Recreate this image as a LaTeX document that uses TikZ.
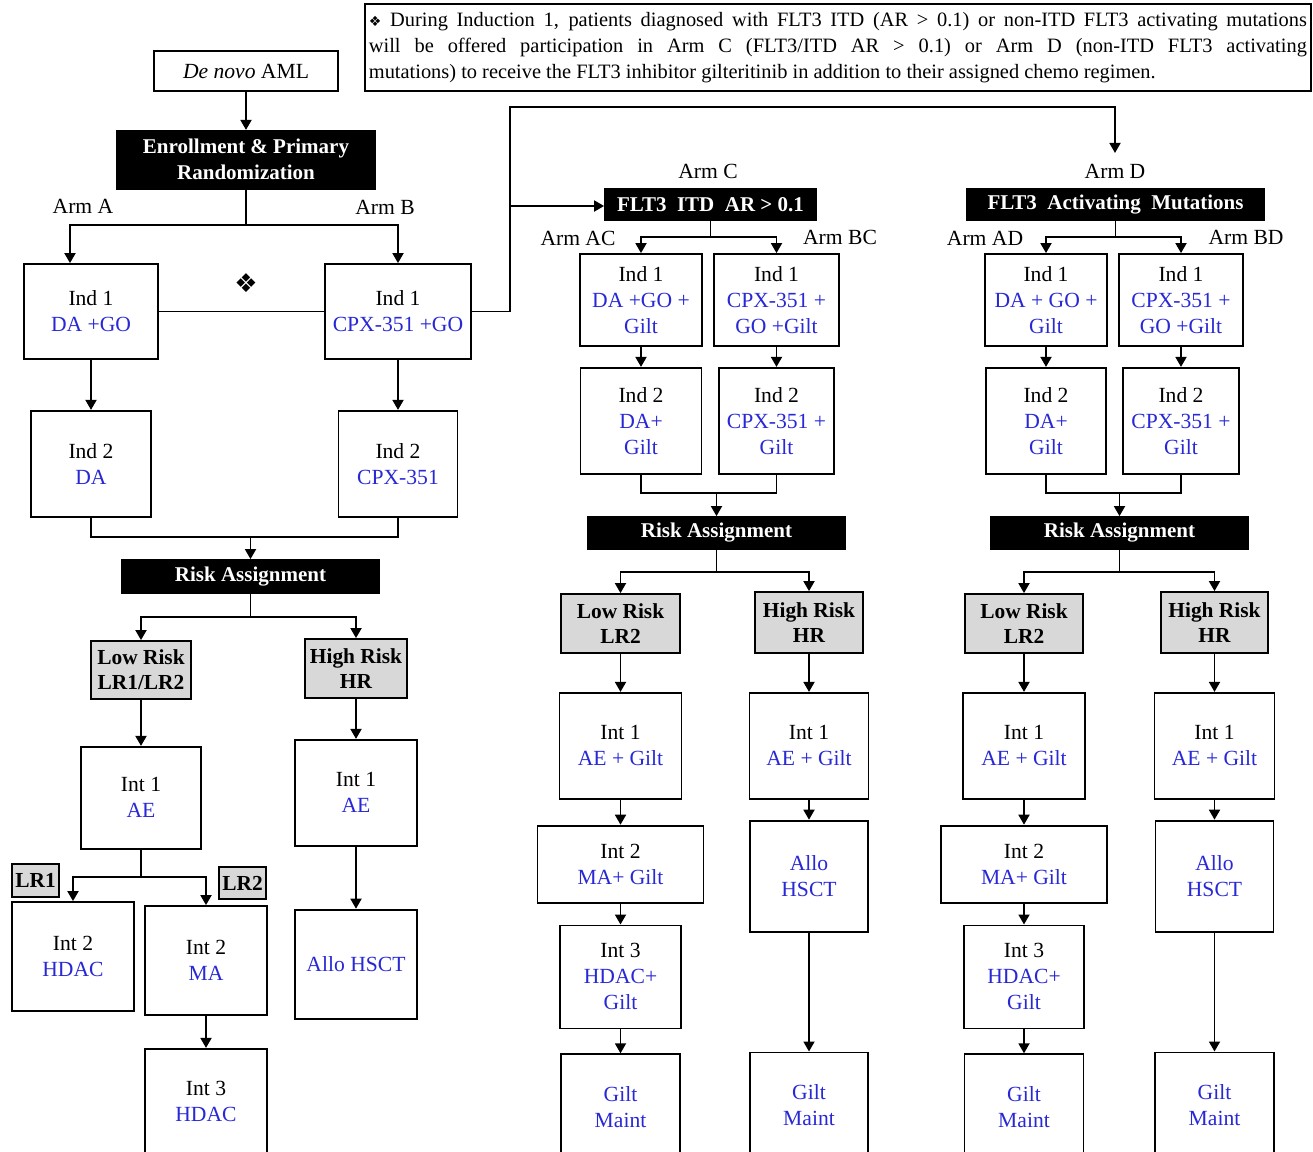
\documentclass[tikz,border=0pt]{standalone}
\usepackage{fontspec}
\setmainfont{Liberation Serif}
\newfontfamily\symfont{DejaVu Sans}
\usetikzlibrary{positioning, calc, arrows.meta}
\definecolor{drugblue}{RGB}{40,40,215}
\definecolor{riskgray}{RGB}{216,216,216}
\newcommand{\drug}[1]{\textcolor{drugblue}{#1}}
\tikzset{
	>={Triangle[length=5pt,width=5.5pt]},
	box/.style={draw, fill=white, align=center, inner sep=1pt, font=\fontsize{10.8}{13}\selectfont},
	headbox/.style={draw=black, fill=black, text=white, align=center, inner sep=1pt, font=\fontsize{10.5}{13}\selectfont\bfseries},
	riskbox/.style={draw, fill=riskgray, align=center, inner sep=1pt, font=\fontsize{10.7}{12.5}\selectfont\bfseries},
	armlabel/.style={inner sep=1pt, font=\fontsize{10.8}{12}\selectfont},
	wh/.style 2 args={minimum width=#1pt, minimum height=#2pt},
}

\begin{document}
\begin{tikzpicture}[x=0.5pt, y=-0.5pt, line width=0.9pt]

			\useasboundingbox (0,0) rectangle (1313,1152);
			\clip (0,0) rectangle (1313,1152);

			\node[draw, align=justify, text width=469pt, inner xsep=2pt, inner ysep=0pt, minimum height=43.5pt, anchor=north west, font=\fontsize{10.2}{13}\selectfont] (note) at (364,3) {{\symfont\fontsize{7}{7}\selectfont ❖} During Induction 1, patients diagnosed with FLT3 ITD (AR > 0.1) or non-ITD FLT3 activating mutations\linebreak will be offered participation in Arm C (FLT3/ITD AR > 0.1) or Arm D (non-ITD FLT3 activating\linebreak mutations) to receive the FLT3 inhibitor gilteritinib in addition to their assigned chemo regimen.};

			% Arms A and B
			\node[box, wh={92}{20}] (denovo) at (246,71) {\textit{De novo} AML};
			\node[headbox, wh={129}{29}, below=19pt of denovo] (enroll) {Enrollment \& Primary\\Randomization};
			\node[armlabel] (armA) at (83,206) {Arm A};
			\node[armlabel] (armB) at (385,207) {Arm B};
			\node[box, wh={67}{47.5}] (ind1A) at (91,311.5) {Ind 1\\\drug{DA +GO}};
			\node[box, wh={73}{47.5}] (ind1B) at (398,311.5) {Ind 1\\\drug{CPX-351 +GO}};
			\node[font=\symfont\fontsize{13}{13}\selectfont] (marker) at (246,283) {❖};
			\node[box, wh={60}{53}, below=25pt of ind1A] (ind2A) {Ind 2\\\drug{DA}};
			\node[box, wh={59.5}{53}, below=25pt of ind1B] (ind2B) {Ind 2\\\drug{CPX-351}};
			\node[headbox, wh={128.5}{16.5}] (riskA) at (250.5,576.5) {Risk Assignment};
			\node[riskbox, wh={50}{29}] (lowA) at (141,670) {Low Risk\\LR1/LR2};
			\node[riskbox, wh={51}{29.5}] (highA) at (356,668.5) {High Risk\\HR};
			\node[box, wh={60}{51}, below=23pt of lowA] (int1A) {Int 1\\\drug{AE}};
			\node[box, wh={61}{53}, below=20pt of highA] (int1AH) {Int 1\\\drug{AE}};
			\node[box, wh={61}{54.5}, below=31pt of int1AH] (alloA) {\drug{Allo HSCT}};
			\node[riskbox, wh={23.5}{16.5}] (lr1) at (35.5,880.5) {LR1};
			\node[riskbox, wh={23.5}{16}] (lr2) at (242.5,883) {LR2};
			\node[box, wh={61}{54.5}] (int2hdac) at (73,956.5) {Int 2\\\drug{HDAC}};
			\node[box, wh={61}{54.5}] (int2ma) at (206,960.5) {Int 2\\\drug{MA}};
			\node[box, wh={61}{53}, below=16pt of int2ma] (int3A) {Int 3\\\drug{HDAC}};

			% Arm C
			\node[armlabel] (armC) at (708,171) {Arm C};
			\node[headbox, wh={105.5}{15.5}] (itd) at (710.5,204.5) {FLT3~ ITD~ AR > 0.1};
			\node[armlabel] (armAC) at (578,238) {Arm AC};
			\node[armlabel] (armBC) at (840,237) {Arm BC};
			\node[box, wh={61}{46}] (ind1AC) at (641,300) {Ind 1\\\drug{DA +GO +}\\\drug{Gilt}};
			\node[box, wh={62.5}{46}] (ind1BC) at (776.5,300) {Ind 1\\\drug{CPX-351 +}\\\drug{GO +Gilt}};
			\node[box, wh={60.5}{53}, below=10pt of ind1AC] (ind2AC) {Ind 2\\\drug{DA+}\\\drug{Gilt}};
			\node[box, wh={57.5}{53}, below=10pt of ind1BC] (ind2BC) {Ind 2\\\drug{CPX-351 +}\\\drug{Gilt}};
			\node[headbox, wh={128.5}{16}] (riskC) at (716.5,533) {Risk Assignment};
			\node[riskbox, wh={59.5}{29.5}] (lowC) at (620.5,623.5) {Low Risk\\LR2};
			\node[riskbox, wh={54}{30.5}] (highC) at (809,622.5) {High Risk\\HR};
			\node[box, wh={61}{53}, below=19pt of lowC] (int1CL) {Int 1\\\drug{AE + Gilt}};
			\node[box, wh={59.5}{53}, below=19pt of highC] (int1CH) {Int 1\\\drug{AE + Gilt}};
			\node[box, wh={83}{38.5}, below=12.5pt of int1CL] (int2C) {Int 2\\\drug{MA+ Gilt}};
			\node[box, wh={60.5}{51.5}, below=10.5pt of int2C] (int3C) {Int 3\\\drug{HDAC+}\\\drug{Gilt}};
			\node[box, wh={59.5}{53}, below=12pt of int3C] (maintCL) {\drug{Gilt}\\\drug{Maint}};
			\node[box, wh={59}{55.5}, below=10pt of int1CH] (alloC) {\drug{Allo}\\\drug{HSCT}};
			\node[box, wh={59}{53}, below=59.5pt of alloC] (maintCH) {\drug{Gilt}\\\drug{Maint}};

			% Arm D
			\node[armlabel] (armD) at (1115,171) {Arm D};
			\node[headbox, wh={148.5}{15.5}] (act) at (1115.5,204.5) {FLT3~ Activating~ Mutations};
			\node[armlabel] (armAD) at (985,238) {Arm AD};
			\node[armlabel] (armBD) at (1246,237) {Arm BD};
			\node[box, wh={61}{46}] (ind1AD) at (1046,300) {Ind 1\\\drug{DA + GO +}\\\drug{Gilt}};
			\node[box, wh={62}{46}] (ind1BD) at (1181,300) {Ind 1\\\drug{CPX-351 +}\\\drug{GO +Gilt}};
			\node[box, wh={60}{53}, below=10pt of ind1AD] (ind2AD) {Ind 2\\\drug{DA+}\\\drug{Gilt}};
			\node[box, wh={58}{53}, below=10pt of ind1BD] (ind2BD) {Ind 2\\\drug{CPX-351 +}\\\drug{Gilt}};
			\node[headbox, wh={128.5}{16}] (riskD) at (1119.5,533) {Risk Assignment};
			\node[riskbox, wh={59}{29.5}] (lowD) at (1024,623.5) {Low Risk\\LR2};
			\node[riskbox, wh={53.5}{30.5}] (highD) at (1214.5,622.5) {High Risk\\HR};
			\node[box, wh={61}{53}, below=19pt of lowD] (int1DL) {Int 1\\\drug{AE + Gilt}};
			\node[box, wh={60}{53}, below=19pt of highD] (int1DH) {Int 1\\\drug{AE + Gilt}};
			\node[box, wh={83}{38.5}, below=12.5pt of int1DL] (int2D) {Int 2\\\drug{MA+ Gilt}};
			\node[box, wh={60}{51.5}, below=10.5pt of int2D] (int3D) {Int 3\\\drug{HDAC+}\\\drug{Gilt}};
			\node[box, wh={59.5}{53}, below=12pt of int3D] (maintDL) {\drug{Gilt}\\\drug{Maint}};
			\node[box, wh={59}{55.5}, below=10pt of int1DH] (alloD) {\drug{Allo}\\\drug{HSCT}};
			\node[box, wh={59.5}{53}, below=59.5pt of alloD] (maintDH) {\drug{Gilt}\\\drug{Maint}};

			% connectors A and B
			\coordinate (splitAB) at (246,225);
			\coordinate (fork) at (510,206);
			\coordinate (overpass) at (510,107);
			\coordinate (joinA) at (250.5,537);
			\coordinate (splitRA) at (250.5,617);
			\coordinate (splitLR) at (141,877);
			\draw[->] (denovo) -- (enroll);
			\draw (enroll) -- (splitAB);
			\draw[->] (splitAB) -| ([xshift=-10.5pt]ind1A.north);
			\draw[->] (splitAB) -| (ind1B);
			\draw (ind1A) -- (ind1B);
			\draw[->, shorten >=4pt] (ind1B.east) -| (overpass) -| (armD);
			\draw[->] (fork) -- (fork -| itd.west);
			\draw[->] (ind1A) -- (ind2A);
			\draw[->] (ind1B) -- (ind2B);
			\draw (ind2A) |- (joinA) -| (ind2B);
			\draw[->] (joinA) -- (riskA);
			\draw (riskA) -- (splitRA);
			\draw[->] (splitRA) -| (lowA);
			\draw[->] (splitRA) -| (highA);
			\draw[->] (lowA) -- (int1A);
			\draw[->] (highA) -- (int1AH);
			\draw[->] (int1AH) -- (alloA);
			\draw (int1A) -- (splitLR);
			\draw[->] (splitLR) -| (int2hdac);
			\draw[->] (splitLR) -| (int2ma);
			\draw[->] (int2ma) -- (int3A);

			% connectors C
			\coordinate (splitC) at (710.5,237);
			\coordinate (joinC) at (716.5,493);
			\coordinate (splitRC) at (716.5,572);
			\draw (itd) -- (splitC);
			\draw[->] (splitC) -| (ind1AC);
			\draw[->] (splitC) -| (ind1BC);
			\draw[->] (ind1AC) -- (ind2AC);
			\draw[->] (ind1BC) -- (ind2BC);
			\draw (ind2AC) |- (joinC) -| (ind2BC);
			\draw[->] (joinC) -- (riskC);
			\draw (riskC) -- (splitRC);
			\draw[->] (splitRC) -| (lowC);
			\draw[->] (splitRC) -| (highC);
			\draw[->] (lowC) -- (int1CL);
			\draw[->] (int1CL) -- (int2C);
			\draw[->] (int2C) -- (int3C);
			\draw[->] (int3C) -- (maintCL);
			\draw[->] (highC) -- (int1CH);
			\draw[->] (int1CH) -- (alloC);
			\draw[->] (alloC) -- (maintCH);

			% connectors D
			\coordinate (splitD) at (1115.5,237);
			\coordinate (joinD) at (1119.5,493);
			\coordinate (splitRD) at (1119.5,572);
			\draw (act) -- (splitD);
			\draw[->] (splitD) -| (ind1AD);
			\draw[->] (splitD) -| (ind1BD);
			\draw[->] (ind1AD) -- (ind2AD);
			\draw[->] (ind1BD) -- (ind2BD);
			\draw (ind2AD) |- (joinD) -| (ind2BD);
			\draw[->] (joinD) -- (riskD);
			\draw (riskD) -- (splitRD);
			\draw[->] (splitRD) -| (lowD);
			\draw[->] (splitRD) -| (highD);
			\draw[->] (lowD) -- (int1DL);
			\draw[->] (int1DL) -- (int2D);
			\draw[->] (int2D) -- (int3D);
			\draw[->] (int3D) -- (maintDL);
			\draw[->] (highD) -- (int1DH);
			\draw[->] (int1DH) -- (alloD);
			\draw[->] (alloD) -- (maintDH);

\end{tikzpicture}
\end{document}
